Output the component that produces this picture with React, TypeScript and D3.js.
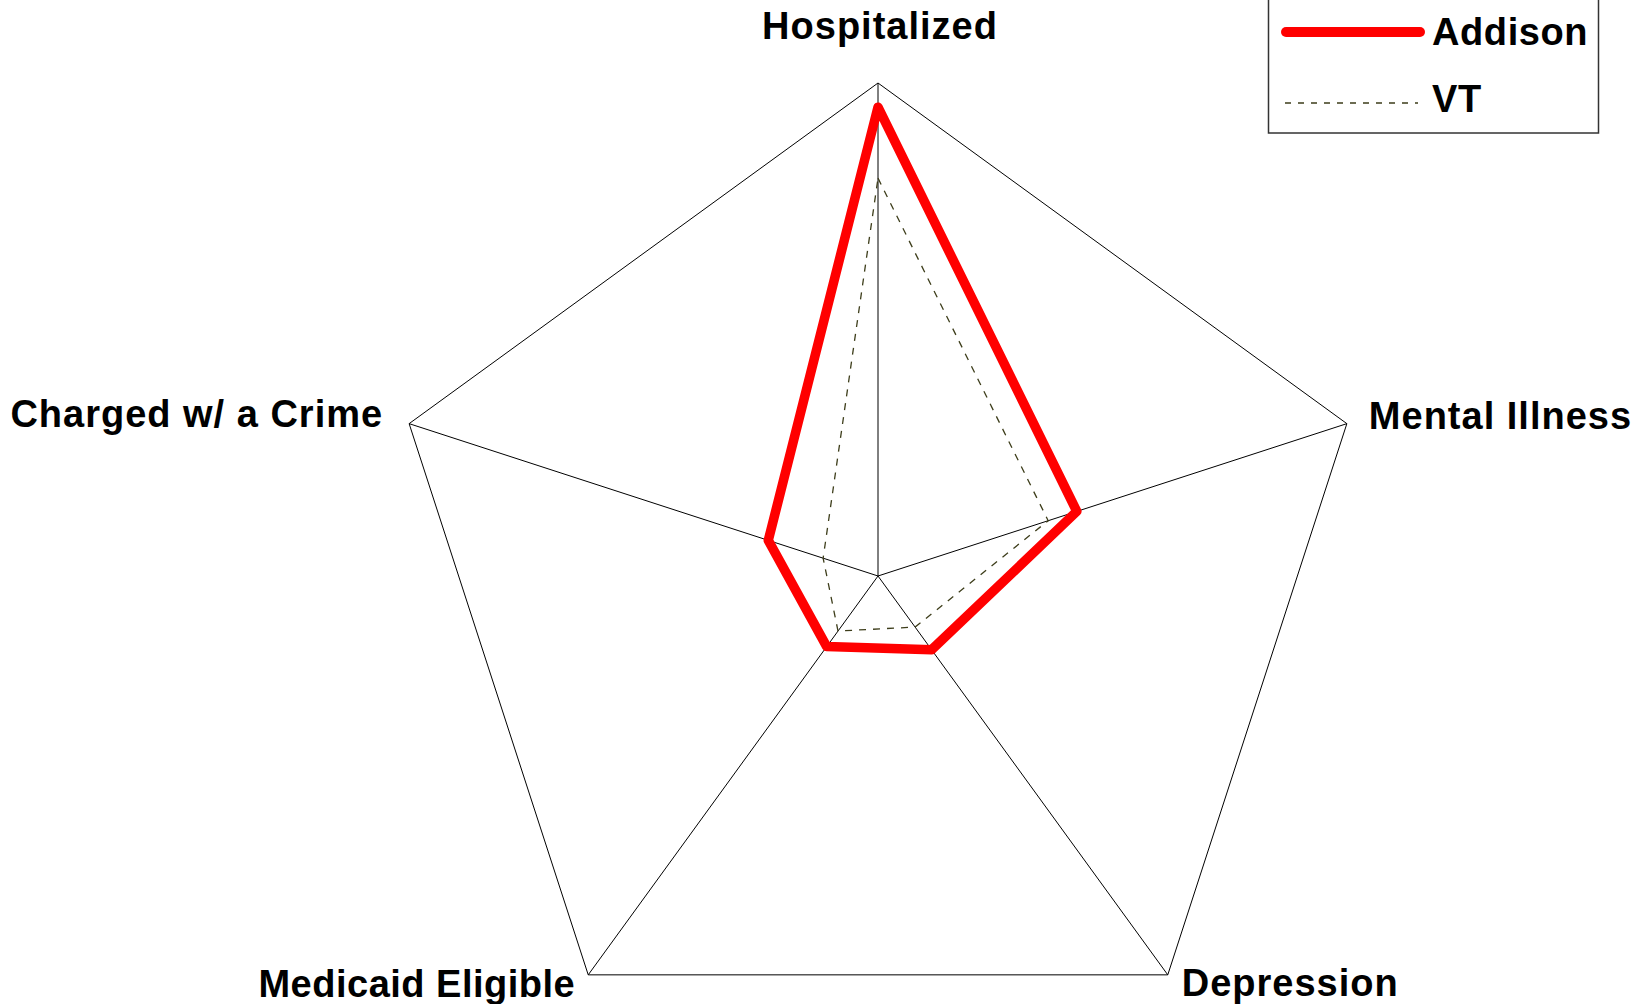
import React, { useRef, useEffect } from "react";
import * as d3 from "d3";

// axes, clockwise from the top
const axes = ["Hospitalized", "Mental Illness", "Depression", "Medicaid Eligible", "Charged w/ a Crime"];
const addison = [0.951, 0.424, 0.185, 0.177, 0.234];
const vt = [0.807, 0.363, 0.128, 0.138, 0.117];
const seriesNames = ["Addison", "VT"];

const W = 1639;
const H = 1004;

const App = () => {
  const svgRef = useRef<SVGSVGElement>(null);

  useEffect(() => {
    const svg = d3.select(svgRef.current);
    svg.selectAll("*").remove();

    const cx = 878;
    const cy = 576;
    const R = 493;
    const font = "'Liberation Sans', Arial, sans-serif";

    const r = d3.scaleLinear().domain([0, 1]).range([0, R]);
    const angle = d3
      .scaleLinear()
      .domain([0, axes.length])
      .range([0, 2 * Math.PI]);

    const g = svg.append("g").attr("transform", `translate(${cx},${cy})`);

    const pt = (i: number, v: number) => {
      const a = angle(i) - Math.PI / 2;
      return [r(v) * Math.cos(a), r(v) * Math.sin(a)];
    };

    // outer pentagon
    const radial = d3
      .lineRadial<number>()
      .angle((d, i) => angle(i))
      .radius((d) => r(d))
      .curve(d3.curveLinearClosed);

    g.append("path")
      .attr("d", radial(axes.map(() => 1)))
      .attr("fill", "none")
      .attr("stroke", "#000")
      .attr("stroke-width", 1);

    // spokes
    g.selectAll(".spoke")
      .data(axes)
      .enter()
      .append("line")
      .attr("x1", 0)
      .attr("y1", 0)
      .attr("x2", (d, i) => pt(i, 1)[0])
      .attr("y2", (d, i) => pt(i, 1)[1])
      .attr("stroke", "#000")
      .attr("stroke-width", 1);

    // VT dashed
    g.append("path")
      .attr("d", radial(vt))
      .attr("fill", "none")
      .attr("stroke", "#3d3d1a")
      .attr("stroke-width", 1.3)
      .attr("stroke-dasharray", "7,7");

    // Addison
    g.append("path")
      .attr("d", radial(addison))
      .attr("fill", "none")
      .attr("stroke", "#ff0000")
      .attr("stroke-width", 9.5)
      .attr("stroke-linejoin", "round");

    // axis labels
    const labelPos = [
      { dx: 2, dy: -44, anchor: "middle" },
      { dx: 22, dy: 5, anchor: "start" },
      { dx: 14, dy: 21, anchor: "start" },
      { dx: -13, dy: 22, anchor: "end" },
      { dx: -26, dy: 3, anchor: "end" },
    ];

    g.selectAll(".axis-label")
      .data(axes)
      .enter()
      .append("text")
      .attr("x", (d, i) => pt(i, 1)[0] + labelPos[i].dx)
      .attr("y", (d, i) => pt(i, 1)[1] + labelPos[i].dy)
      .attr("text-anchor", (d, i) => labelPos[i].anchor)
      .style("font-family", font)
      .style("font-weight", "bold")
      .style("font-size", "38px")
      .style("letter-spacing", (d, i) => (i === 3 ? "0.5px" : "1px"))
      .attr("fill", "#000")
      .text((d) => d);

    // legend
    const legend = svg.append("g");
    legend
      .append("rect")
      .attr("x", 1268.5)
      .attr("y", -5)
      .attr("width", 330)
      .attr("height", 138)
      .attr("fill", "#fff")
      .attr("stroke", "#333")
      .attr("stroke-width", 1.5);

    legend
      .append("line")
      .attr("x1", 1286)
      .attr("x2", 1420)
      .attr("y1", 32)
      .attr("y2", 32)
      .attr("stroke", "#ff0000")
      .attr("stroke-width", 10)
      .attr("stroke-linecap", "round");

    legend
      .append("line")
      .attr("x1", 1285)
      .attr("x2", 1418)
      .attr("y1", 103)
      .attr("y2", 103)
      .attr("stroke", "#3d3d1a")
      .attr("stroke-width", 1.3)
      .attr("stroke-dasharray", "6,7");

    legend
      .selectAll(".legend-text")
      .data(seriesNames)
      .enter()
      .append("text")
      .attr("x", 1432)
      .attr("y", (d, i) => 45 + i * 67)
      .style("font-family", font)
      .style("font-weight", "bold")
      .style("font-size", "38px")
      .style("letter-spacing", "0.6px")
      .attr("fill", "#000")
      .text((d) => d);
  }, []);

  return (
    <svg
      ref={svgRef}
      width={W}
      height={H}
      style={{ position: "absolute", left: 0, top: 0, background: "#fff" }}
    />
  );
};

export default App;
